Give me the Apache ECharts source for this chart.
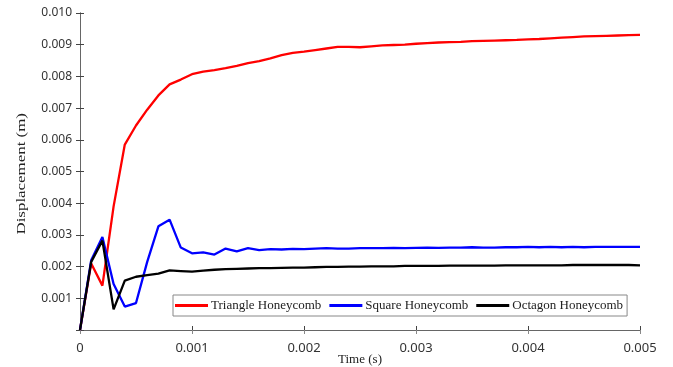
<!DOCTYPE html>
<html>
<head>
<meta charset="utf-8">
<script src="https://cdn.jsdelivr.net/npm/echarts@6/dist/echarts.min.js"></script>
<style>html,body{margin:0;padding:0;background:#fff}#c{width:673px;height:367px}</style>
</head>
<body>
<div id="c"></div>
<script>
var seriesNames = ['Triangle Honeycomb', 'Square Honeycomb', 'Octagon Honeycomb'];
var seriesColors = ['#ff0000', '#0000ff', '#000000'];
var xTicks = [0, 0.001, 0.002, 0.003, 0.004, 0.005];
var yTicks = [0, 0.001, 0.002, 0.003, 0.004, 0.005, 0.006, 0.007, 0.008, 0.009, 0.010];
var time = [0, 0.0001, 0.0002, 0.0003, 0.0004, 0.0005, 0.0006, 0.0007, 0.0008, 0.0009,
  0.0010, 0.0011, 0.0012, 0.0013, 0.0014, 0.0015, 0.0016, 0.0017, 0.0018, 0.0019,
  0.0020, 0.0021, 0.0022, 0.0023, 0.0024, 0.0025, 0.0026, 0.0027, 0.0028, 0.0029,
  0.0030, 0.0031, 0.0032, 0.0033, 0.0034, 0.0035, 0.0036, 0.0037, 0.0038, 0.0039,
  0.0040, 0.0041, 0.0042, 0.0043, 0.0044, 0.0045, 0.0046, 0.0047, 0.0048, 0.0049, 0.0050];
var triangle = [0, 0.00210, 0.00140, 0.00390, 0.00585, 0.00645, 0.00695, 0.00740, 0.00775, 0.00790,
  0.00807, 0.00815, 0.00820, 0.00826, 0.00833, 0.00842, 0.00848, 0.00857, 0.00867, 0.00874,
  0.00878, 0.00883, 0.00888, 0.00893, 0.00893, 0.00892, 0.00895, 0.00898, 0.00899, 0.00900,
  0.00903, 0.00905, 0.00907, 0.00908, 0.00909, 0.00911, 0.00912, 0.00913, 0.00914, 0.00915,
  0.00917, 0.00918, 0.00920, 0.00922, 0.00924, 0.00926, 0.00927, 0.00928, 0.00929, 0.00930, 0.00931];
var square = [0, 0.00220, 0.00293, 0.00145, 0.00074, 0.00085, 0.00215, 0.00327, 0.00348, 0.00260,
  0.00242, 0.00245, 0.00238, 0.00257, 0.00248, 0.00258, 0.00252, 0.00255, 0.00254, 0.00256,
  0.00255, 0.00257, 0.00258, 0.00257, 0.00257, 0.00258, 0.00258, 0.00258, 0.00259, 0.00258,
  0.00259, 0.00260, 0.00259, 0.00260, 0.00260, 0.00261, 0.00260, 0.00260, 0.00261, 0.00261,
  0.00262, 0.00261, 0.00262, 0.00261, 0.00262, 0.00261, 0.00262, 0.00262, 0.00262, 0.00262, 0.00262];
var octagon = [0, 0.00215, 0.00282, 0.00065, 0.00156, 0.00168, 0.00173, 0.00178, 0.00188, 0.00186,
  0.00184, 0.00187, 0.00190, 0.00192, 0.00193, 0.00194, 0.00195, 0.00195, 0.00196, 0.00197,
  0.00197, 0.00198, 0.00199, 0.00199, 0.00200, 0.00200, 0.00201, 0.00201, 0.00201, 0.00202,
  0.00202, 0.00202, 0.00202, 0.00203, 0.00203, 0.00203, 0.00203, 0.00203, 0.00204, 0.00204,
  0.00204, 0.00204, 0.00204, 0.00204, 0.00205, 0.00205, 0.00205, 0.00205, 0.00205, 0.00205, 0.00204];

function pairs(vals) { return time.map(function (t, i) { return [t, vals[i]]; }); }
var allVals = [triangle, square, octagon];

var chart = echarts.init(document.getElementById('c'), null, {renderer: 'canvas'});
var axisLine = {show: true, lineStyle: {color: '#666', width: 1}};
var tick = {show: true, inside: true, length: 4, lineStyle: {color: '#444'}};
var option = {
  animation: false,
  backgroundColor: '#fff',
  grid: {left: 80, right: 33, top: 13, bottom: 37, show: false, containLabel: false, outerBoundsMode: 'none'},
  xAxis: [{
    type: 'value', min: xTicks[0], max: xTicks[xTicks.length - 1], interval: 0.001,
    axisLine: axisLine, axisTick: tick, splitLine: {show: false},
    axisLabel: {color: '#333', fontFamily: 'Noto Sans', fontSize: 13, margin: 12,
      formatter: function (v) { return v === 0 ? '0' : v.toFixed(3); }},
    name: 'Time (s)', nameLocation: 'middle', nameGap: 23, nameMoveOverlap: false,
    nameTextStyle: {fontFamily: 'Liberation Serif', fontSize: 13, color: '#222'}
  }, {
    type: 'value', position: 'top', min: 0, max: 0.005, interval: 0.001,
    axisLine: axisLine, axisTick: {show: true, inside: true, length: 4, lineStyle: {color: '#888'}},
    axisLabel: {show: false}, splitLine: {show: false}
  }],
  yAxis: [{
    type: 'value', min: yTicks[0], max: yTicks[yTicks.length - 1], interval: 0.001,
    axisLine: axisLine, axisTick: tick, splitLine: {show: false},
    axisLabel: {color: '#333', fontFamily: 'Noto Sans', fontSize: 12, margin: 8,
      formatter: function (v) { return v === 0 ? '' : v.toFixed(3); }}
  }, {
    type: 'value', position: 'right', min: 0, max: 0.010, interval: 0.001,
    axisLine: axisLine, axisTick: tick,
    axisLabel: {show: false}, splitLine: {show: false}
  }],
  legend: {
    left: 173, top: 295, orient: 'horizontal',
    backgroundColor: '#fff', borderColor: '#888', borderWidth: 1,
    padding: [4, 4, 4, 2], itemGap: 8, itemWidth: 33, itemHeight: 3,
    icon: 'rect',
    textStyle: {fontFamily: 'Liberation Serif', fontSize: 13, color: '#222', padding: [0, 0, 0, -2]},
    data: seriesNames
  },
  graphic: [{
    type: 'text', left: 15, top: 113, rotation: Math.PI / 2,
    scaleX: 1.3, scaleY: 1,
    style: {text: 'Displacement (m)', fontFamily: 'Liberation Serif', fontSize: 13, fill: '#222'}
  }],
  series: seriesNames.map(function (n, i) {
    return {
      name: n, type: 'line', data: pairs(allVals[i]), showSymbol: false, symbol: 'none',
      lineStyle: {color: seriesColors[i], width: 2.3}, itemStyle: {color: seriesColors[i]},
      xAxisIndex: 0, yAxisIndex: 0, z: 2 + i
    };
  })
};
chart.setOption(option);
</script>
</body>
</html>
